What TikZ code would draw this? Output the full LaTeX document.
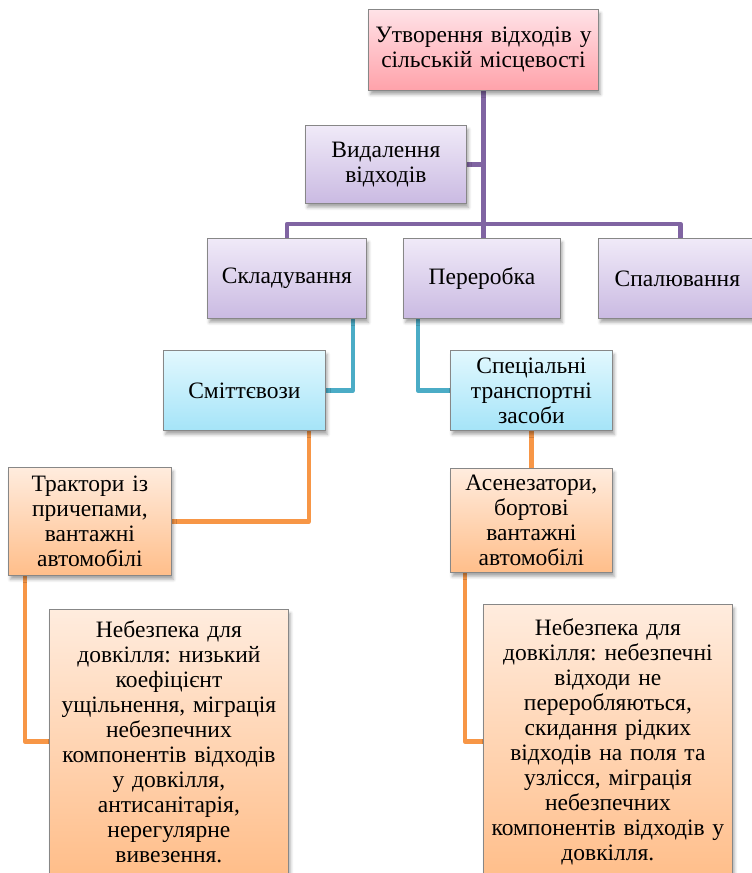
\documentclass[tikz,border=0pt]{standalone}
\usepackage{fontspec}
\setmainfont{Liberation Serif}
\usetikzlibrary{shadows.blur,backgrounds}
\definecolor{pinkT}{RGB}{255,226,231}
\definecolor{pinkB}{RGB}{255,162,170}
\definecolor{purT}{RGB}{240,234,248}
\definecolor{purB}{RGB}{202,186,226}
\definecolor{bluT}{RGB}{226,248,254}
\definecolor{bluB}{RGB}{165,228,248}
\definecolor{orT}{RGB}{255,236,222}
\definecolor{orB}{RGB}{255,190,138}
\definecolor{boxgray}{RGB}{135,135,135}
\definecolor{lpur}{RGB}{128,100,162}
\definecolor{lblu}{RGB}{75,172,198}
\definecolor{lor}{RGB}{247,150,70}
\frenchspacing
\begin{document}
\begin{tikzpicture}[x=1pt,y=-1pt,
  font=\fontsize{23.5}{25}\selectfont,
  box/.style={draw=boxgray, line width=0.8pt, align=center, inner sep=2pt,
    anchor=north west,
    blur shadow={shadow xshift=2pt, shadow yshift=-4pt, shadow blur radius=3pt, shadow opacity=35}},
  pinkbox/.style={box, top color=pinkT, bottom color=pinkB},
  purbox/.style={box, top color=purT, bottom color=purB},
  blubox/.style={box, top color=bluT, bottom color=bluB},
  orbox/.style={box, top color=orT, bottom color=orB},
  conn/.style={line width=4.5pt, line join=round},
  purl/.style={conn, draw=lpur},
  blul/.style={conn, draw=lblu},
  orl/.style={conn, draw=lor}]
\useasboundingbox (0,0) rectangle (752,873);

\node[pinkbox, minimum width=230pt, minimum height=81pt, text width=226pt] (top) at (368,9) {Утворення відходів у\\сільській місцевості};
\node[purbox, minimum width=161pt, minimum height=78pt, text width=157pt] (vyd) at (305,125) {Видалення\\відходів};
\node[purbox, minimum width=159pt, minimum height=80pt, text width=155pt] (skl) at (207,238) {Складування};
\node[purbox, minimum width=157pt, minimum height=80pt, text width=153pt] (per) at (403,238) {Переробка};
\node[purbox, minimum width=158pt, minimum height=80pt, text width=154pt] (spal) at (598,238) {Спалювання};
\node[blubox, minimum width=162pt, minimum height=80pt, text width=158pt] (smit) at (163,350) {Сміттєвози};
\node[blubox, minimum width=162pt, minimum height=80pt, text width=158pt] (spec) at (450,350) {Спеціальні\\транспортні\\засоби};
\node[orbox, minimum width=163pt, minimum height=108pt, text width=159pt] (trak) at (8,467) {Трактори із\\причепами,\\вантажні\\автомобілі};
\node[orbox, minimum width=162pt, minimum height=104pt, text width=158pt] (asen) at (450,468) {Асенезатори,\\бортові\\вантажні\\автомобілі};
\node[orbox, minimum width=239pt, minimum height=264pt, text width=235pt] (neb1) at (49,609) {Небезпека для\\довкілля: низький\\коефіцієнт\\ущільнення, міграція\\небезпечних\\компонентів відходів\\у довкілля,\\антисанітарія,\\нерегулярне\\вивезення.};
\node[orbox, minimum width=249pt, minimum height=274pt, text width=245pt] (neb2) at (483,604) {Небезпека для\\довкілля: небезпечні\\відходи не\\переробляються,\\скидання рідких\\відходів на поля та\\узлісся, міграція\\небезпечних\\компонентів відходів у\\довкілля.};

\begin{pgfonlayer}{background}
\draw[purl] (top.south) -- (top.south |- per.north);
\draw[purl] (vyd.east) -- (vyd.east -| top.south);
\draw[purl] (skl.north) -- ([yshift=14pt]skl.north) -| ([xshift=3pt]spal.north);
\draw[blul] (smit.east) -| ([xshift=-14pt]skl.south east);
\draw[blul] (spec.west) -| ([xshift=15pt]per.south west);
\draw[orl] (trak.east) -| ([xshift=-17pt]smit.south east);
\draw[orl] (spec.south) -- (asen.north);
\draw[orl] ([xshift=17pt]trak.south west) |- (neb1.west);
\draw[orl] ([xshift=15pt]asen.south west) |- (neb2.west);
\end{pgfonlayer}
\end{tikzpicture}
\end{document}
